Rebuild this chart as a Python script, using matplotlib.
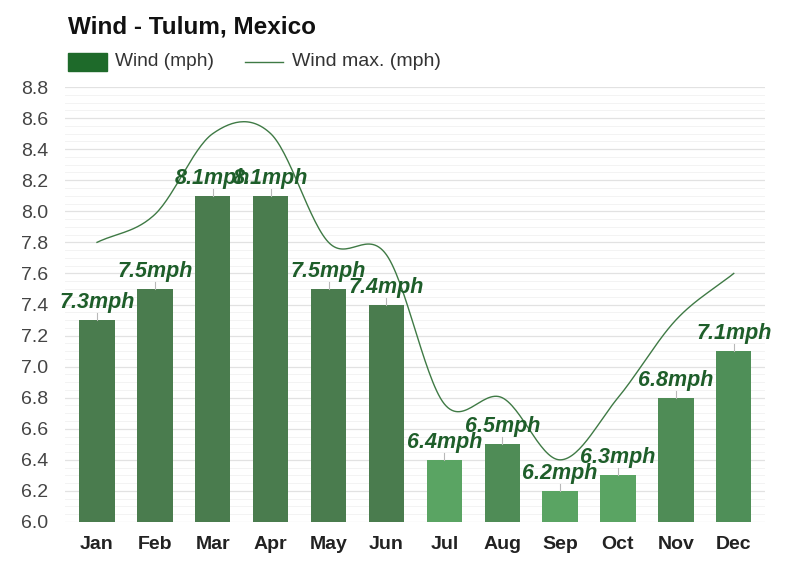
import numpy as np
import matplotlib

matplotlib.use("Agg")
import matplotlib.pyplot as plt  # noqa: E402
from matplotlib.ticker import MultipleLocator  # noqa: E402

plt.rcParams["font.family"] = ["Liberation Sans", "DejaVu Sans"]

months = ["Jan", "Feb", "Mar", "Apr", "May", "Jun",
          "Jul", "Aug", "Sep", "Oct", "Nov", "Dec"]
wind = [7.3, 7.5, 8.1, 8.1, 7.5, 7.4, 6.4, 6.5, 6.2, 6.3, 6.8, 7.1]
wind_max = [7.8, 7.98, 8.5, 8.5, 7.8, 7.72, 6.76, 6.8, 6.4, 6.8, 7.3, 7.6]
bar_colors = ["#4a7c4e", "#4a7c4e", "#4a7c4e", "#4a7c4e", "#4a7c4e", "#4a7c4e",
              "#5aa463", "#4f8c56", "#5aa463", "#5aa463", "#4f8c56", "#4f8f58"]


def catmull_rom(x, y, n=30):
    """Smooth curve through the points (Catmull-Rom, clamped ends)."""
    x = np.asarray(x, float)
    y = np.asarray(y, float)
    m = np.gradient(y, x)
    xs, ys = [], []
    for i in range(len(x) - 1):
        h = x[i + 1] - x[i]
        t = np.linspace(0, 1, n, endpoint=False)
        h00 = 2 * t**3 - 3 * t**2 + 1
        h10 = t**3 - 2 * t**2 + t
        h01 = -2 * t**3 + 3 * t**2
        h11 = t**3 - t**2
        xs.append(x[i] + t * h)
        ys.append(h00 * y[i] + h10 * h * m[i] + h01 * y[i + 1] + h11 * h * m[i + 1])
    xs.append([x[-1]])
    ys.append([y[-1]])
    return np.concatenate(xs), np.concatenate(ys)


fig = plt.figure(figsize=(8, 5.75), dpi=100)
ax = fig.add_axes([65 / 800, 53 / 575, 700 / 800, 435 / 575])

x = np.arange(len(months))
ax.bar(x, [v - 6.0 for v in wind], bottom=6.0, width=0.61, color=bar_colors, zorder=2)

for xi, v in zip(x, wind):
    ax.plot([xi, xi], [v, v + 0.045], color="#b8b8b8", lw=0.8, zorder=2)
    ax.text(xi, v + 0.045, f"{v}mph", ha="center", va="bottom", fontsize=15.5,
            fontweight="bold", fontstyle="italic", color="#1e5e2a", zorder=4)

sx, sy = catmull_rom(x, wind_max)
ax.plot(sx, sy, color="#3f7a45", lw=1.0, zorder=3)

ax.set_xlim(-0.553, 11.54)
ax.set_ylim(6.0, 8.8)
ax.yaxis.set_major_locator(MultipleLocator(0.2))
ax.yaxis.set_minor_locator(MultipleLocator(0.05))
ax.grid(axis="y", which="major", color="#e2e2e2", lw=0.9, zorder=0)
ax.grid(axis="y", which="minor", color="#f3f3f3", lw=0.7, zorder=0)
ax.set_axisbelow(True)
for s in ax.spines.values():
    s.set_visible(False)
ax.tick_params(axis="both", which="both", length=0)
ax.set_xticks(x)
ax.set_xticklabels(months, fontsize=14, fontweight="bold", color="#222222")
ax.tick_params(axis="x", pad=10)
ax.set_yticks(np.arange(6.0, 8.81, 0.2))
ax.set_yticklabels([f"{v:.1f}" for v in np.arange(6.0, 8.81, 0.2)],
                   fontsize=14, color="#444444")
ax.tick_params(axis="y", pad=12)

fig.text(68 / 800, 1 - 27 / 575, "Wind - Tulum, Mexico", fontsize=17.5,
         fontweight="bold", color="#111111", va="center", ha="left")
fig.patches.append(plt.Rectangle((68 / 800, 1 - 71 / 575), 39 / 800, 18 / 575,
                                 transform=fig.transFigure, color="#1e6a2a"))
fig.text(115 / 800, 1 - 62 / 575, "Wind (mph)", fontsize=13.8, color="#333333",
         va="center", ha="left")
fig.lines.append(plt.Line2D([245 / 800, 283 / 800], [1 - 62 / 575, 1 - 62 / 575],
                            transform=fig.transFigure, color="#3f7a45", lw=1.0))
fig.text(292 / 800, 1 - 62 / 575, "Wind max. (mph)", fontsize=14, color="#333333",
         va="center", ha="left")

fig.savefig("out.png", dpi=100)
